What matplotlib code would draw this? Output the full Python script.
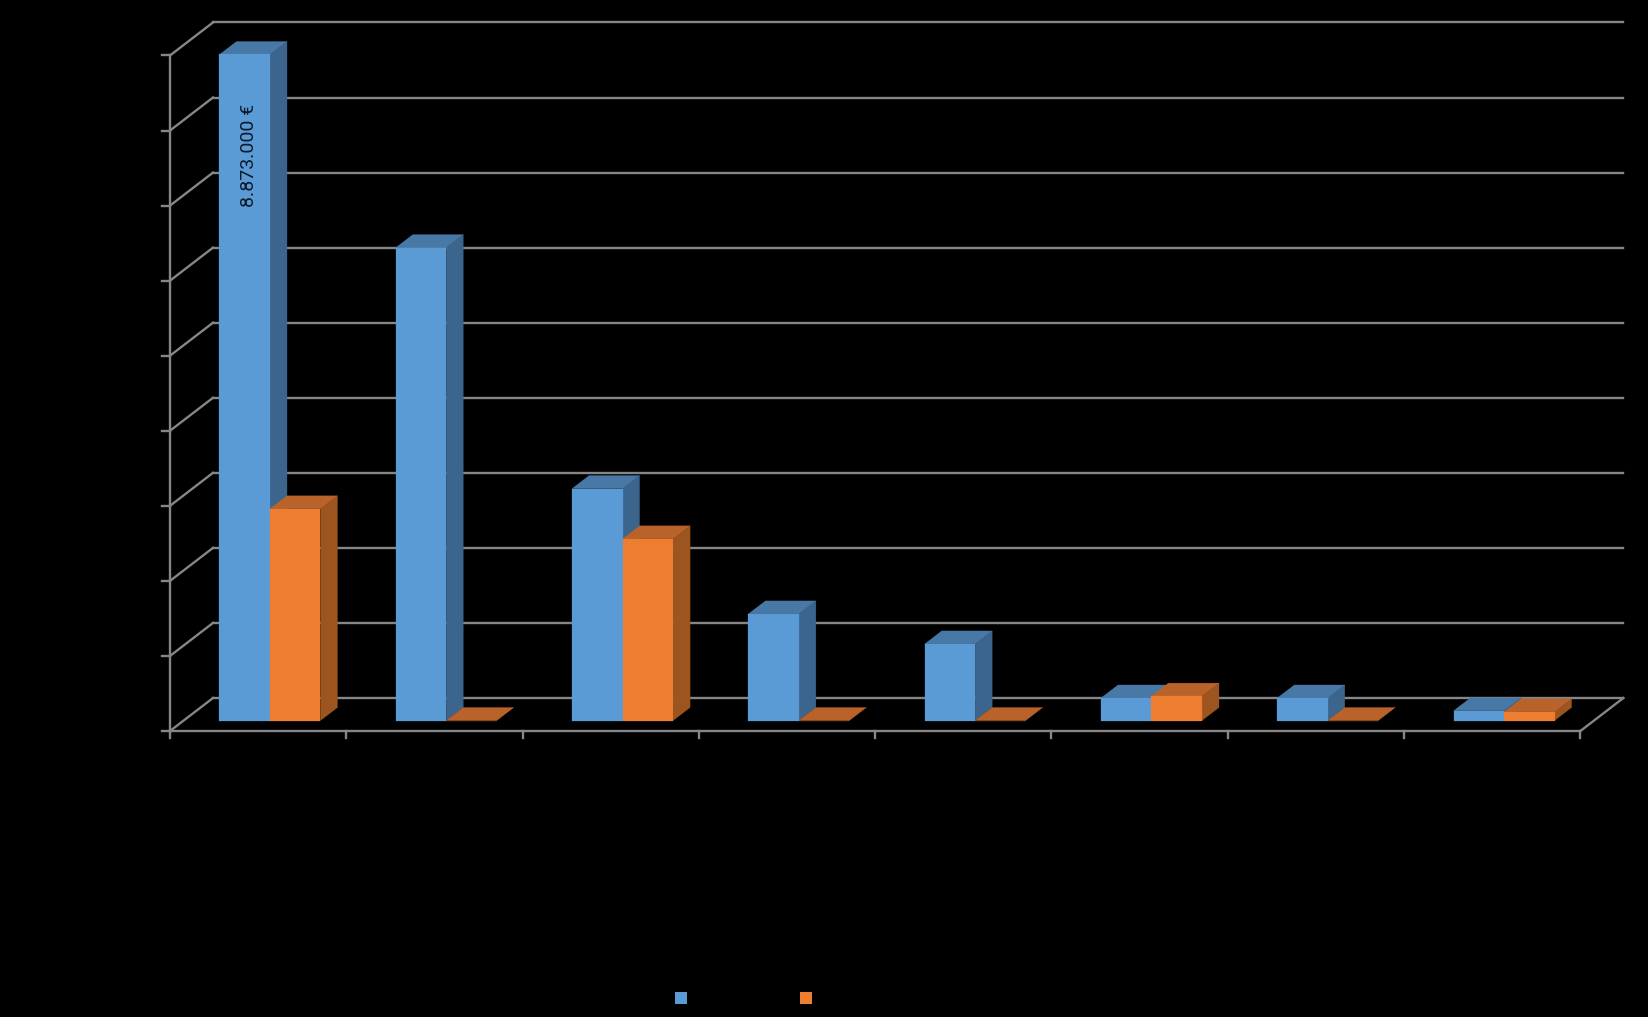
import matplotlib
matplotlib.use("Agg")
import matplotlib.pyplot as plt
from matplotlib.patches import Polygon

W, H = 1649, 1017

# values, in euro
blue_values = [8873000, 6300000, 3090000, 1420000, 1020000, 300000, 300000, 130000]
orange_values = [2820000, 0, 2420000, 0, 0, 325000, 0, 115000]
y_levels = [0, 1000000, 2000000, 3000000, 4000000, 5000000, 6000000, 7000000, 8000000, 9000000]

# pixel scales of the chart
px_x = 176.3   # px per category
px_y = 75.06   # px per million euro
base_px = 720.5  # where value 0 of the bars sits
first_px = 270 # centre of first category

plt.rcParams['font.family'] = ['Roboto', 'DejaVu Sans']

fig = plt.figure(figsize=(W / 100, H / 100), dpi=100, facecolor='black')
ax = fig.add_axes([0, 0, 1, 1], facecolor='black')
ax.set_xlim(-first_px / px_x, (W - first_px) / px_x)
ax.set_ylim(-(H - base_px) / px_y * 1e6, base_px / px_y * 1e6)
ax.axis('off')


def dx(px):
    return px / px_x


def dy(px):
    return px / px_y * 1e6


def euro(v):
    return f"{v:,.0f}".replace(",", ".") + " €"


grid_col = '#868686'
lw = 1.7
left = dx(170 - first_px)   # front left corner of the floor
n = len(blue_values)
right = left + n
floor_front = -dy(10.5)
floor_back = dy(22.5)
wall_dx = dx(43)
bar_w = dx(50.5)

# back wall gridlines and the diagonal ones on the side wall
for lev in y_levels:
    yb = floor_back + lev
    yf = floor_front + lev
    ax.plot([left + wall_dx, right + wall_dx], [yb, yb], color=grid_col, lw=lw, zorder=2)
    ax.plot([left, left + wall_dx], [yf, yb], color=grid_col, lw=lw, zorder=2)
    ax.plot([left - dx(8), left], [yf, yf], color=grid_col, lw=lw, zorder=2)
    ax.text(left - dx(12), yf, euro(lev), color='black', fontsize=13, ha='right', va='center', zorder=1)

# front axes
ax.plot([left, left], [floor_front, floor_front + y_levels[-1]], color=grid_col, lw=lw, zorder=2)
ax.plot([left, right], [floor_front, floor_front], color=grid_col, lw=lw, zorder=2)
ax.plot([right, right + wall_dx], [floor_front, floor_back], color=grid_col, lw=lw, zorder=2)
for i in range(n + 1):
    ax.plot([left + i, left + i], [floor_front, floor_front - dy(7)], color=grid_col, lw=lw, zorder=2)


def bar3d(x0, value, face, side, top, z):
    d_x, d_y = dx(17), dy(13)
    x1 = x0 + bar_w
    if value > 0:
        ax.add_patch(Polygon([(x1, 0), (x1 + d_x, d_y), (x1 + d_x, value + d_y), (x1, value)],
                             closed=True, fc=side, ec=side, lw=0.2, zorder=z))
    ax.add_patch(Polygon([(x0, value), (x0 + d_x, value + d_y), (x1 + d_x, value + d_y), (x1, value)],
                         closed=True, fc=top, ec=top, lw=0.2, zorder=z))
    ax.bar(x0, value, bar_w, align='edge', color=face, edgecolor=face, linewidth=0.2, zorder=z)


for i in range(n):
    bar3d(i - bar_w, blue_values[i], '#5B9BD5', '#3B658C', '#4778A6', 3 + i * 0.01)
    bar3d(i, orange_values[i], '#ED7D31', '#9C551F', '#B9632A', 3.005 + i * 0.01)

    # value labels, black on black like the original
    for x0, v in ((i - bar_w, blue_values[i]), (i, orange_values[i])):
        if v > 8000000:
            ax.text(x0 + bar_w / 2 + dx(4), v - dy(101), euro(v), rotation=90, color='#0B1A2B',
                    fontsize=14, ha='center', va='center', zorder=6)
        else:
            ax.text(x0 + bar_w / 2 + dx(12), v + dy(38), euro(v), rotation=90, color='black',
                    fontsize=14, ha='center', va='bottom', zorder=1)

# legend markers
for px in (681.5, 806.5):
    ax.plot(px / W, 1 - 997.5 / H, marker='s', ms=8, mew=0, ls='none',
            color='#5B9BD5' if px < 700 else '#ED7D31', transform=ax.transAxes, zorder=5)

fig.savefig('out.png', dpi=100, facecolor='black')
